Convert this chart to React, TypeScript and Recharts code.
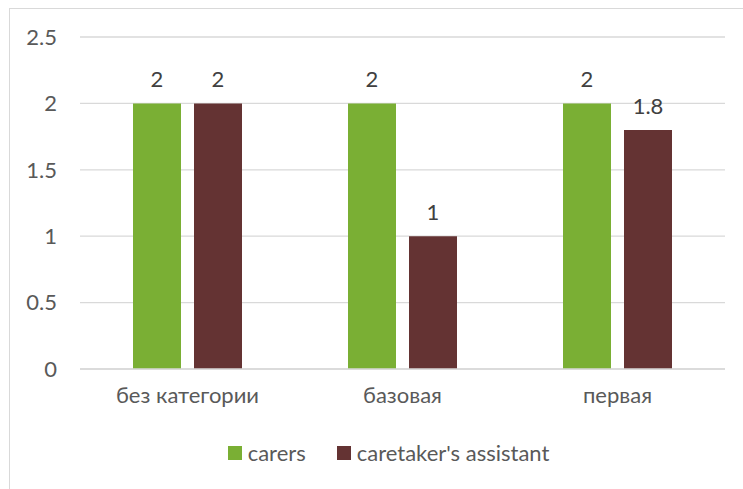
import { BarChart, Bar, XAxis, YAxis, CartesianGrid, Legend, LabelList } from 'recharts';

const categories = ['без категории', 'базовая', 'первая'];
const carers = [2, 2, 2];
const assistants = [2, 1, 1.8];
const yTicks = [0, 0.5, 1, 1.5, 2, 2.5];

const GREEN = '#7aaf34';
const BROWN = '#643333';
const FONT = 'Lato, "Open Sans", sans-serif';
const FS = 22;

const data = categories.map((name, i) => ({ name, carers: carers[i], assistant: assistants[i] }));

function LegendContent() {
  const items = [
    { label: 'carers', color: GREEN },
    { label: "caretaker's assistant", color: BROWN },
  ];
  return (
    <div style={{ display: 'flex', justifyContent: 'center', gap: 31, paddingLeft: 52, fontFamily: FONT, fontSize: FS, color: '#595959', lineHeight: '26px' }}>
      {items.map((it) => (
        <div key={it.label} style={{ display: 'flex', alignItems: 'center', gap: 6 }}>
          <span style={{ width: 14, height: 14, background: it.color, display: 'inline-block' }} />
          <span>{it.label}</span>
        </div>
      ))}
    </div>
  );
}

export default function App() {
  return (
    <div style={{ position: 'absolute', left: 0, top: 0, width: 743, height: 489, overflow: 'hidden', background: '#fff' }}>
      <div style={{ position: 'absolute', left: 9, top: 8, width: 800, height: 600, border: '1px solid #d9d9d9' }} />
      <div style={{ position: 'absolute', left: 0, top: 0 }}>
        <BarChart
          width={743}
          height={489}
          data={data}
          margin={{ top: 37, right: 18, left: 0, bottom: 0 }}
          barCategoryGap={53}
          barGap={13}
          style={{ fontFamily: FONT }}
        >
          <CartesianGrid vertical={false} stroke="#d9d9d9" strokeWidth={1.3} />
          <XAxis
            dataKey="name"
            axisLine={{ stroke: '#d9d9d9', strokeWidth: 1.3 }}
            tickLine={false}
            tickSize={0}
            tickMargin={18}
            height={71}
            tick={{ fill: '#595959', fontSize: FS }}
          />
          <YAxis
            domain={[0, 2.5]}
            ticks={yTicks}
            axisLine={false}
            tickLine={false}
            tickSize={0}
            tickMargin={23}
            width={80}
            tick={{ fill: '#595959', fontSize: FS }}
          />
          <Legend verticalAlign="bottom" height={49} content={<LegendContent />} />
          <Bar dataKey="carers" fill={GREEN} barSize={48} isAnimationActive={false}>
            <LabelList dataKey="carers" position="top" offset={16} fill="#404040" fontSize={FS} />
          </Bar>
          <Bar dataKey="assistant" fill={BROWN} barSize={48} isAnimationActive={false}>
            <LabelList dataKey="assistant" position="top" offset={16} fill="#404040" fontSize={FS} />
          </Bar>
        </BarChart>
      </div>
    </div>
  );
}
